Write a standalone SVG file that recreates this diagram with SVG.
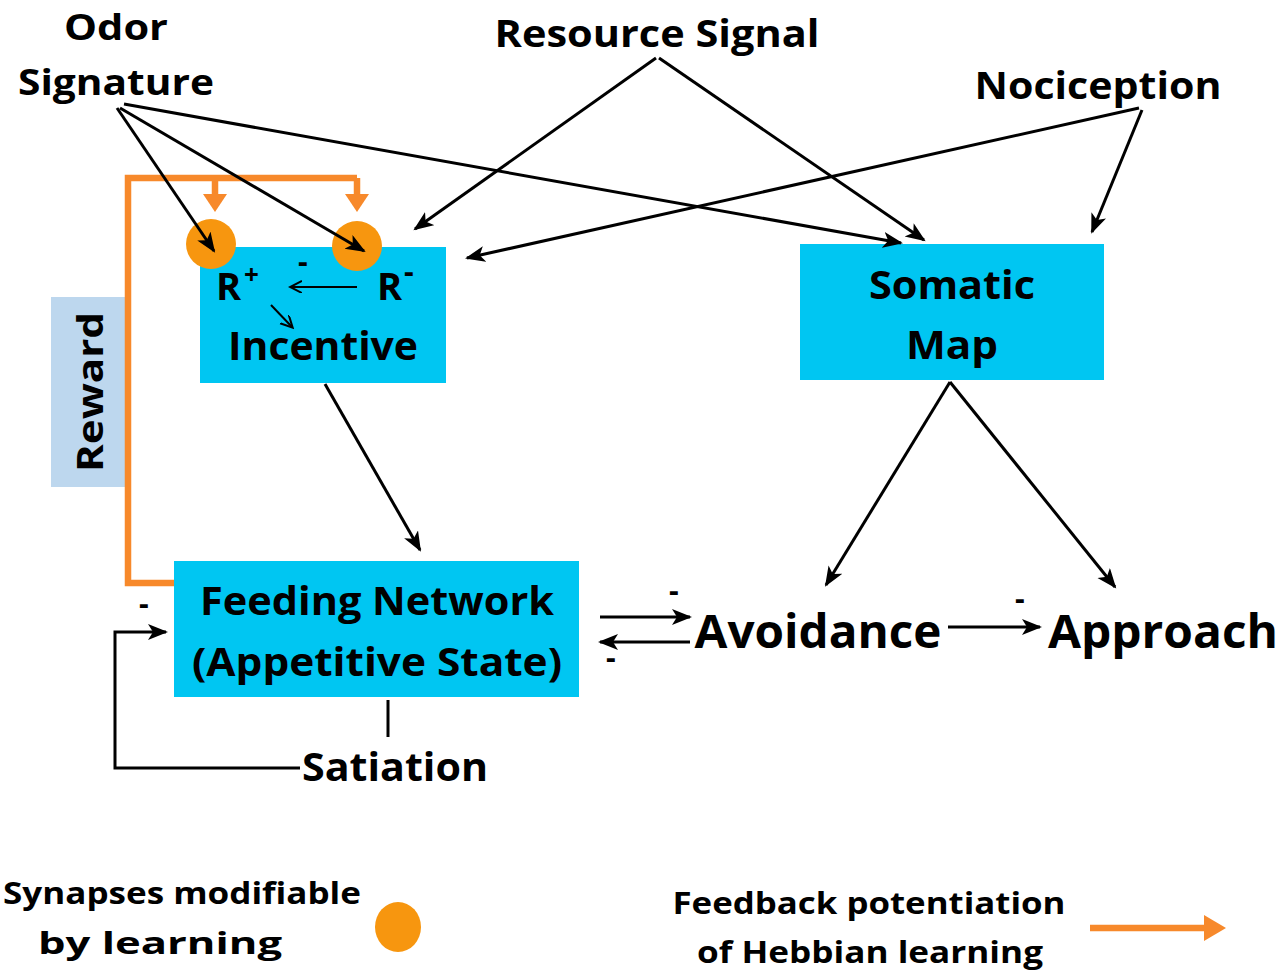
<svg xmlns="http://www.w3.org/2000/svg" width="1280" height="978" viewBox="0 0 1280 978">
<style>
.t{font-family:"Open Sans","Liberation Sans",sans-serif;font-weight:bold;fill:#000;}
.box{fill:#00C6F2;}
.ln{stroke:#000;stroke-width:3;fill:none;}
.thin{stroke:#000;stroke-width:2;fill:none;}
.or{stroke:#F7892B;stroke-width:6.5;fill:none;}
.syn{fill:#F7960F;}
</style>
<defs>
<marker id="ah" markerUnits="userSpaceOnUse" markerWidth="22" markerHeight="18" refX="18" refY="8" orient="auto">
<path d="M0,0 L20,8 L0,16 L5,8 z" fill="#000"/>
</marker>
<marker id="ahs" markerUnits="userSpaceOnUse" markerWidth="14" markerHeight="14" refX="11" refY="6" orient="auto">
<path d="M0,0 L12,6 L0,12" fill="none" stroke="#000" stroke-width="2"/>
</marker>
<marker id="ao" markerUnits="userSpaceOnUse" markerWidth="30" markerHeight="30" refX="2" refY="13" orient="auto">
<path d="M0,0 L22,13 L0,26 z" fill="#F7892B"/>
</marker>
</defs>

<g id="reward">
<rect x="51" y="297" width="75" height="190" fill="#BDD7EE"/>
<text class="t" font-size="36" transform="translate(103,392) rotate(-90)" text-anchor="middle" textLength="160" lengthAdjust="spacingAndGlyphs">Reward</text>
</g>

<g id="feedback-orange">
<path class="or" d="M174,583 L128,583 L128,178 L357,178"/>
<path class="or" d="M215,178 L215,194"/>
<path class="or" d="M357,178 L357,194"/>
<path d="M203,194 L227,194 L215,212 z" fill="#F7892B"/>
<path d="M345,194 L369,194 L357,212 z" fill="#F7892B"/>
</g>

<g id="incentive">
<rect class="box" x="200" y="247" width="246" height="136"/>
<text class="t" x="216" y="300" font-size="38">R</text>
<text class="t" x="244" y="284" font-size="26">+</text>
<text class="t" x="377" y="300" font-size="38">R</text>
<text class="t" x="404" y="282" font-size="30">-</text>
<text class="t" x="298" y="272" font-size="30">-</text>
<text class="t" x="323" y="360" font-size="40" text-anchor="middle" textLength="190" lengthAdjust="spacingAndGlyphs">Incentive</text>
</g>

<g id="synapse1"><circle class="syn" cx="211" cy="244" r="25"/></g>
<g id="synapse2"><circle class="syn" cx="357" cy="246" r="25"/></g>

<g id="somatic">
<rect class="box" x="800" y="244" width="304" height="136"/>
<text class="t" x="952" y="299" font-size="40" text-anchor="middle" textLength="166" lengthAdjust="spacingAndGlyphs">Somatic</text>
<text class="t" x="952" y="359" font-size="40" text-anchor="middle" textLength="92" lengthAdjust="spacingAndGlyphs">Map</text>
</g>

<g id="feeding">
<rect class="box" x="174" y="561" width="405" height="136"/>
<text class="t" x="377" y="615" font-size="40" text-anchor="middle" textLength="354" lengthAdjust="spacingAndGlyphs">Feeding Network</text>
<text class="t" x="377" y="676" font-size="40" text-anchor="middle" textLength="370" lengthAdjust="spacingAndGlyphs">(Appetitive State)</text>
</g>

<g id="odor"><text class="t" font-size="36" text-anchor="middle"><tspan x="116" y="40" textLength="104" lengthAdjust="spacingAndGlyphs">Odor</tspan><tspan x="116" y="95" textLength="196" lengthAdjust="spacingAndGlyphs">Signature</tspan></text></g>
<g id="resource"><text class="t" x="657" y="47" font-size="38" text-anchor="middle" textLength="325" lengthAdjust="spacingAndGlyphs">Resource Signal</text></g>
<g id="nociception"><text class="t" x="1098" y="99" font-size="38" text-anchor="middle" textLength="247" lengthAdjust="spacingAndGlyphs">Nociception</text></g>
<g id="avoidance"><text class="t" x="818" y="648" font-size="46" text-anchor="middle" textLength="247" lengthAdjust="spacingAndGlyphs">Avoidance</text></g>
<g id="approach"><text class="t" x="1163" y="648" font-size="46" text-anchor="middle" textLength="230" lengthAdjust="spacingAndGlyphs">Approach</text></g>
<g id="satiation"><text class="t" x="395" y="781" font-size="40" text-anchor="middle" textLength="186" lengthAdjust="spacingAndGlyphs">Satiation</text></g>

<g id="connectors">
<path class="ln" d="M117,108 L214,251" marker-end="url(#ah)"/>
<path class="ln" d="M120,108 L364,251" marker-end="url(#ah)"/>
<path class="ln" d="M124,104 L901,243" marker-end="url(#ah)"/>
<path class="ln" d="M656,58 L415,229" marker-end="url(#ah)"/>
<path class="ln" d="M659,58 L924,240" marker-end="url(#ah)"/>
<path class="ln" d="M1139,108 L467,258" marker-end="url(#ah)"/>
<path class="ln" d="M1142,110 L1092,232" marker-end="url(#ah)"/>
<path class="thin" d="M357,287 L291,287" marker-end="url(#ahs)"/>
<path class="thin" d="M271,305 L292,327" marker-end="url(#ahs)"/>
<path class="ln" d="M325,384 L420,550" marker-end="url(#ah)"/>
<path class="ln" d="M950,382 L826,585" marker-end="url(#ah)"/>
<path class="ln" d="M950,382 L1115,587" marker-end="url(#ah)"/>
<path class="ln" d="M600,617 L690,617" marker-end="url(#ah)"/>
<path class="ln" d="M690,642 L600,642" marker-end="url(#ah)"/>
<text class="t" x="669" y="601" font-size="30">-</text>
<text class="t" x="606" y="668" font-size="30">-</text>
<path class="ln" d="M948,627 L1040,627" marker-end="url(#ah)"/>
<text class="t" x="1015" y="609" font-size="30">-</text>
<path class="ln" d="M388,700 L388,737"/>
<path class="ln" d="M300,768 L115,768 L115,632 L166,632" marker-end="url(#ah)"/>
<text class="t" x="139" y="614" font-size="30">-</text>
</g>

<g id="legend-synapse">
<text class="t" font-size="31" text-anchor="middle"><tspan x="182" y="904" textLength="358" lengthAdjust="spacingAndGlyphs">Synapses modifiable</tspan><tspan x="160" y="954" textLength="244" lengthAdjust="spacingAndGlyphs">by learning</tspan></text>
<ellipse class="syn" cx="398" cy="927" rx="23" ry="25"/>
</g>
<g id="legend-feedback">
<text class="t" font-size="31" text-anchor="middle"><tspan x="869" y="914" textLength="393" lengthAdjust="spacingAndGlyphs">Feedback potentiation</tspan><tspan x="870" y="963" textLength="346" lengthAdjust="spacingAndGlyphs">of Hebbian learning</tspan></text>
<path class="or" d="M1090,928 L1206,928" marker-end="url(#ao)"/>
</g>
</svg>
